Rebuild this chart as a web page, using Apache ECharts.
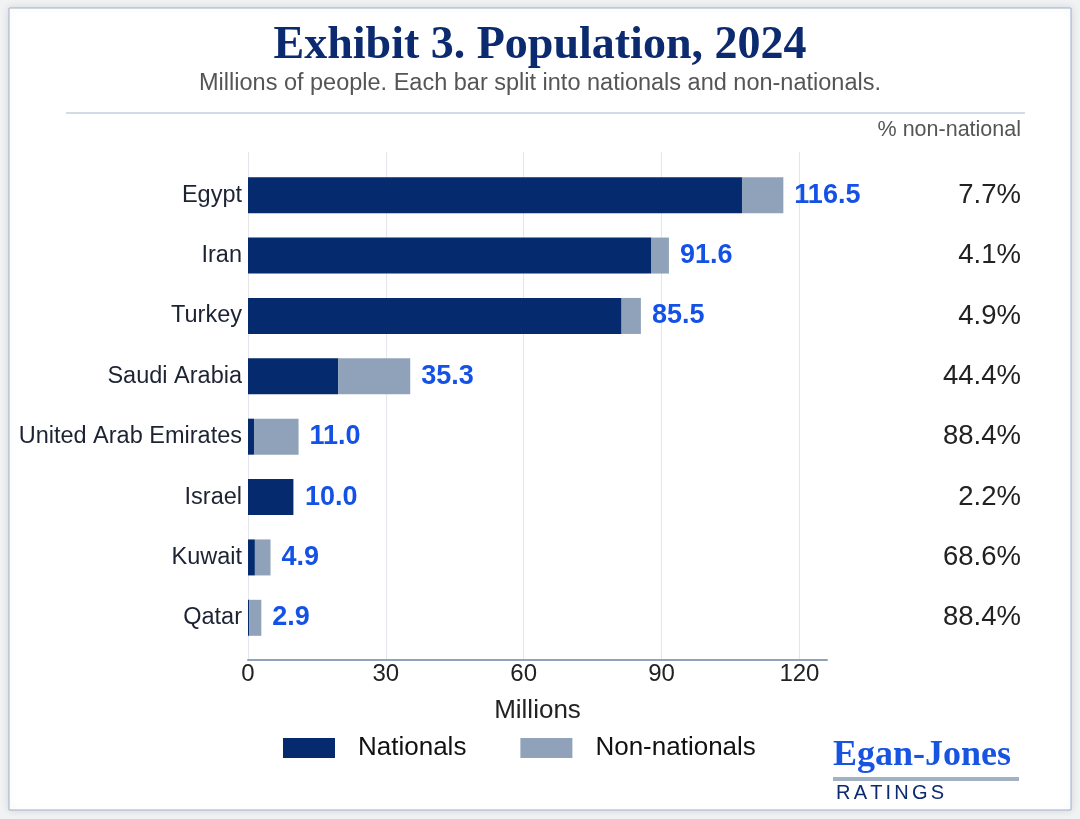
<!DOCTYPE html>
<html><head><meta charset="utf-8">
<script src="https://cdn.jsdelivr.net/npm/echarts@6/dist/echarts.min.js"></script>
<style>html,body{margin:0;padding:0;background:#f1f2f4;}#c{width:1080px;height:819px;}</style>
</head><body><div id="c"></div>
<script>
const categories = ['Egypt','Iran','Turkey','Saudi Arabia','United Arab Emirates','Israel','Kuwait','Qatar'];
const nationals = [107.5, 87.8, 81.3, 19.6, 1.3, 9.8, 1.5, 0.3];
const nonNationals = [9.0, 3.8, 4.2, 15.7, 9.7, 0.2, 3.4, 2.6];
const totals = ['116.5','91.6','85.5','35.3','11.0','10.0','4.9','2.9'];
const pctNonNational = ['7.7%','4.1%','4.9%','44.4%','88.4%','2.2%','68.6%','88.4%'];
const xTicks = [0, 30, 60, 90, 120];

const F = '"Liberation Sans", Arial, sans-serif';

// spaced "RATINGS" letters
const ratingsFont = '20px ' + F;
const cv = document.createElement('canvas').getContext('2d');
cv.font = ratingsFont;
const ratingLetters = [];
let rx = 836;
for (const ch of 'RATINGS') {
  ratingLetters.push({type:'text', x: rx, y: 783, style:{text: ch, font: ratingsFont, fill:'#0b2a6f'}});
  rx += cv.measureText(ch).width + 3.2;
}

const chart = echarts.init(document.getElementById('c'));
chart.setOption({
  backgroundColor: '#f1f2f4',
  animation: false,
  graphic: [
    {type:'rect', shape:{x:9,y:8,width:1062,height:802}, style:{fill:'#ffffff', stroke:'#9fb0cc', lineWidth:1, shadowBlur:8, shadowColor:'rgba(0,0,0,0.12)'}, z:-10},
    {type:'text', left:'center', top:23, style:{text:'Exhibit 3. Population, 2024', font:'bold 46px "Liberation Serif", "Times New Roman", serif', fill:'#0b2a6f'}},
    {type:'text', left:'center', top:72, style:{text:'Millions of people. Each bar split into nationals and non-nationals.', font:'23.5px '+F, fill:'#555555'}},
    {type:'rect', shape:{x:66,y:112,width:959,height:2}, style:{fill:'#d5dbe6'}},
    {type:'text', right:59, top:119, style:{text:'% non-national', font:'21.5px '+F, fill:'#555555', align:'right'}},
    {type:'text', left:833, top:738, style:{text:'Egan-Jones', font:'bold 36px "Liberation Serif", "Times New Roman", serif', fill:'#1754e2'}},
    {type:'rect', shape:{x:833,y:777,width:186,height:4}, style:{fill:'#a3b2c2'}}
  ].concat(ratingLetters),
  legend: {
    bottom: 53, left: 278,
    itemWidth: 52, itemHeight: 20, itemGap: 54,
    icon: 'rect',
    textStyle: {fontFamily: F, fontSize: 26, color: '#111111', padding: [0,0,0,18]},
    data: ['Nationals','Non-nationals']
  },
  grid: [
    {left: 248, right: 253, top: 165, bottom: 171},
    {left: 248, right: 281, top: 152, bottom: 159}
  ],
  xAxis: [
    {type:'value', gridIndex:0, min:0, max:126, interval:30, offset:12,
     axisLine:{show:true, lineStyle:{color:'#8fa2ba', width:2}}, axisTick:{show:false},
     splitLine:{show:false},
     axisLabel:{fontFamily:F, fontSize:24, color:'#222222', margin:2, formatter: v => xTicks.indexOf(v) >= 0 ? String(v) : ''},
     name:'Millions', nameLocation:'middle', nameGap:38, nameTextStyle:{fontFamily:F, fontSize:26, color:'#222222'}},
    {type:'value', gridIndex:1, min:0, max:120, interval:30,
     axisLine:{show:false}, axisTick:{show:false}, axisLabel:{show:false},
     splitLine:{show:true, lineStyle:{color:'#e3e6ea', width:1}}}
  ],
  yAxis: [
    {type:'category', gridIndex:0, data:categories, inverse:true,
     axisLine:{show:false}, axisTick:{show:false},
     axisLabel:{fontFamily:F, fontSize:23.5, color:'#1c2333', margin:6}},
    {type:'category', gridIndex:0, data:pctNonNational, inverse:true, position:'right',
     axisLine:{show:false}, axisTick:{show:false},
     axisLabel:{fontFamily:F, fontSize:27.5, color:'#222222', align:'right', margin:194}},
    {type:'category', gridIndex:1, data:categories, show:false}
  ],
  series: [
    {name:'Nationals', type:'bar', stack:'pop', xAxisIndex:0, yAxisIndex:0, barWidth:36,
     itemStyle:{color:'#052a6e'}, data:nationals},
    {name:'Non-nationals', type:'bar', stack:'pop', xAxisIndex:0, yAxisIndex:0, barWidth:36,
     itemStyle:{color:'#8fa2ba'}, data:nonNationals,
     label:{show:true, position:'right', distance:11, formatter: p => totals[p.dataIndex],
       fontFamily:F, fontSize:27, fontWeight:'bold', color:'#1452e6'}}
  ]
});
</script></body></html>
